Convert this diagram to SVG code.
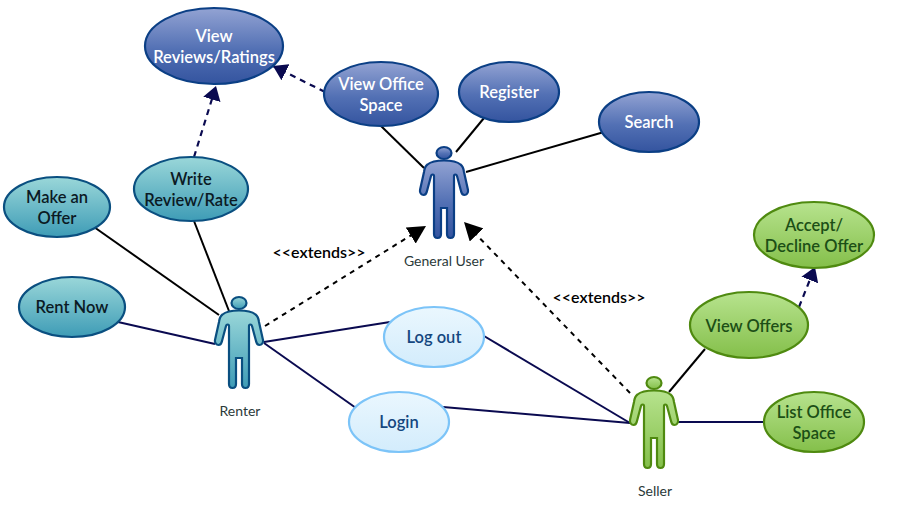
<svg xmlns="http://www.w3.org/2000/svg" xmlns:xlink="http://www.w3.org/1999/xlink" width="913" height="505" viewBox="0 0 913 505">
<style>
text{font-family:Lato,"Open Sans","Liberation Sans",sans-serif;text-anchor:middle}
.t{font-size:16.500px;font-weight:600}
.w{fill:#fff}.k{fill:#0b1a24}.lb{fill:#14477f}.g{fill:#1c4f16}
.cap{font-size:14px;fill:#2b3a3a}
.ext{font-size:16px;font-weight:600;fill:#000}
.blue{fill:url(#gb);stroke:#0b3f85;stroke-width:2.2}
.teal{fill:url(#gt);stroke:#0a4f80;stroke-width:2.2}
.light{fill:url(#gl);stroke:#7cc4f8;stroke-width:2.2}
.green{fill:url(#gg);stroke:#4f8a10;stroke-width:2.2}
.s{fill:none;stroke:#000;stroke-width:2}
.n{fill:none;stroke:#0a0a50;stroke-width:2}
.d1{fill:none;stroke:#0a0a50;stroke-width:2.2;stroke-dasharray:6 5}
.d2{fill:none;stroke:#000;stroke-width:2;stroke-dasharray:5 5}
</style>
<defs>
<linearGradient id="gb" x1="0" y1="0" x2="0" y2="1"><stop offset="0" stop-color="#93a3d3"/><stop offset="0.55" stop-color="#5270b4"/><stop offset="1" stop-color="#34549f"/></linearGradient>
<linearGradient id="gt" x1="0" y1="0" x2="0" y2="1"><stop offset="0" stop-color="#9ad7d9"/><stop offset="1" stop-color="#3e9cb6"/></linearGradient>
<linearGradient id="gl" x1="0" y1="0" x2="0" y2="1"><stop offset="0" stop-color="#eaf7fe"/><stop offset="1" stop-color="#d3ecfc"/></linearGradient>
<linearGradient id="gg" x1="0" y1="0" x2="0" y2="1"><stop offset="0" stop-color="#b7e38e"/><stop offset="1" stop-color="#84bf4a"/></linearGradient>
<marker id="an" viewBox="0 0 14 18" refX="14" refY="9" markerWidth="14" markerHeight="18" markerUnits="userSpaceOnUse" orient="auto"><path d="M0 0L14 9L0 18Z" fill="#0a0a50"/></marker>
<marker id="ak" viewBox="0 0 18 19" refX="18" refY="9.500" markerWidth="18" markerHeight="19" markerUnits="userSpaceOnUse" orient="auto"><path d="M0 0L18 9.500L0 19Z" fill="#000"/></marker>
<g id="actor">
<ellipse cx="0" cy="0" rx="7.5" ry="6"/>
<path d="M0 7.500C-7 7.500 -13 8.500 -16.500 11.500C-18.500 13 -19.500 15 -20 19L-24 37C-24.500 40 -22.500 42 -20.500 42C-18.500 42 -17.500 40.500 -17 38L-13 23C-12.500 21 -10 21 -10 23V81C-10 84 -8.500 85 -6.500 85C-4 85 -3 84 -3 81V55H3V81C3 84 4 85 6.500 85C8.500 85 10 84 10 81V23C10 21 12.500 21 13 23L17 38C17.500 40.500 18.500 42 20.500 42C22.500 42 24.500 40 24 37L20 19C19.500 15 18.500 13 16.500 11.500C13 8.500 7 7.500 0 7.500Z"/>
</g>
</defs>
<rect width="913" height="505" fill="#fff"/>
<g id="connectors">
<path class="s" d="M380 125L424 168"/>
<path class="s" d="M484 118L456 152"/>
<path class="s" d="M604 132L466 172"/>
<path class="s" d="M94 227L219 315"/>
<path class="s" d="M194 221L229 311"/>
<path class="n" d="M118 322L215 344"/>
<path class="n" d="M264 342L390 322"/>
<path class="n" d="M264 343L356 408"/>
<path class="n" d="M443 407L630 423"/>
<path class="n" d="M484 336L630 423"/>
<path class="n" d="M678 422L765 422"/>
<path class="s" d="M669 392L705 349"/>
<path class="d1" d="M325 92L273 66" marker-end="url(#an)"/>
<path class="d1" d="M194 157L216 86" marker-end="url(#an)"/>
<path class="d1" d="M799 307L815 267" marker-end="url(#an)"/>
<path class="d2" d="M265 326L426 226" marker-end="url(#ak)"/>
<path class="d2" d="M630 393L464 222" marker-end="url(#ak)"/>
</g>
<g id="view-reviews"><ellipse class="blue" cx="214" cy="46" rx="69" ry="38"/><text class="t w" x="214" y="42">View</text><text class="t w" x="214" y="63">Reviews/Ratings</text></g>
<g id="view-office"><ellipse class="blue" cx="381" cy="94" rx="57" ry="32"/><text class="t w" x="381" y="90">View Office</text><text class="t w" x="381" y="111">Space</text></g>
<g id="register"><ellipse class="blue" cx="509" cy="92" rx="50" ry="30"/><text class="t w" x="509" y="98">Register</text></g>
<g id="search"><ellipse class="blue" cx="649" cy="122" rx="50" ry="30"/><text class="t w" x="649" y="128">Search</text></g>
<g id="write-review"><ellipse class="teal" cx="191" cy="189" rx="57" ry="32"/><text class="t k" x="191" y="185">Write</text><text class="t k" x="191" y="206">Review/Rate</text></g>
<g id="make-offer"><ellipse class="teal" cx="57" cy="207" rx="53" ry="30"/><text class="t k" x="57" y="203">Make an</text><text class="t k" x="57" y="224">Offer</text></g>
<g id="rent-now"><ellipse class="teal" cx="72" cy="307" rx="53" ry="30"/><text class="t k" x="72" y="313">Rent Now</text></g>
<g id="log-out"><ellipse class="light" cx="434" cy="337" rx="50" ry="30"/><text class="t lb" x="434" y="343">Log out</text></g>
<g id="login"><ellipse class="light" cx="399" cy="422" rx="50" ry="30"/><text class="t lb" x="399" y="428">Login</text></g>
<g id="view-offers"><ellipse class="green" cx="749" cy="325" rx="59" ry="33"/><text class="t g" x="749" y="332">View Offers</text></g>
<g id="accept-decline"><ellipse class="green" cx="814" cy="235" rx="60" ry="33"/><text class="t g" x="814" y="231">Accept/</text><text class="t g" x="814" y="252">Decline Offer</text></g>
<g id="list-office"><ellipse class="green" cx="814" cy="422" rx="50" ry="30"/><text class="t g" x="814" y="418">List Office</text><text class="t g" x="814" y="439">Space</text></g>
<g id="general-user"><use href="#actor" x="444" y="153" fill="url(#gb)" stroke="#0b3f85" stroke-width="2.200"/><text class="cap" x="444" y="266">General User</text></g>
<g id="renter"><use href="#actor" x="239" y="303" fill="url(#gt)" stroke="#0a4f80" stroke-width="2.200"/><text class="cap" x="240" y="416">Renter</text></g>
<g id="seller"><use href="#actor" x="654" y="383" fill="url(#gg)" stroke="#4f8a10" stroke-width="2.200"/><text class="cap" x="655" y="496">Seller</text></g>
<text class="ext" x="319" y="258">&lt;&lt;extends&gt;&gt;</text>
<text class="ext" x="599" y="303">&lt;&lt;extends&gt;&gt;</text>
</svg>
